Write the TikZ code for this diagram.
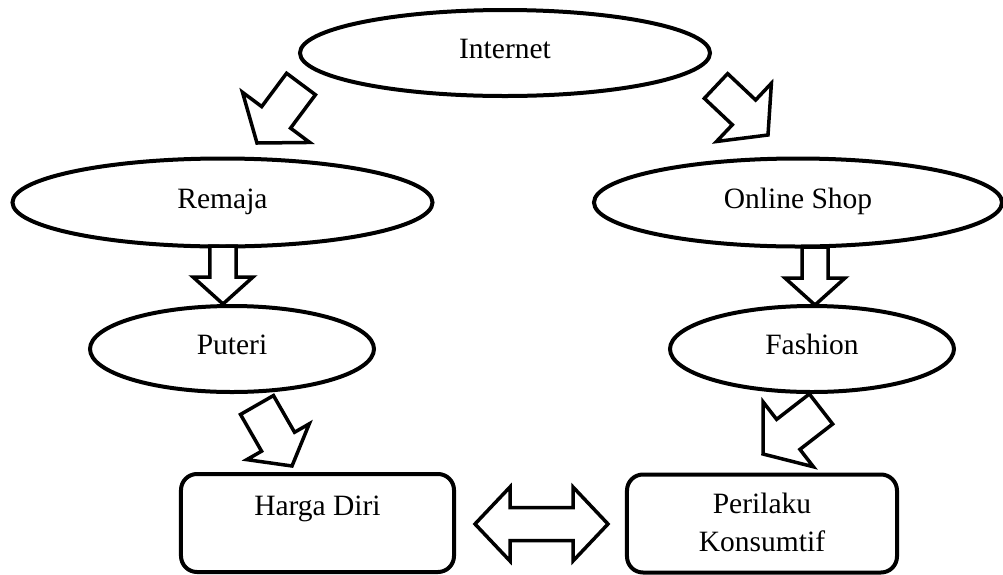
\documentclass[tikz,border=0pt]{standalone}
\usepackage{fontspec}
\setmainfont{Liberation Serif}
\usetikzlibrary{calc,shapes.geometric}
\tikzset{
  ell/.style={ellipse, draw=black, line width=1.6pt, inner sep=0pt, fill=white,
    text height=0.7em, text depth=0.25em},
  box/.style={rectangle, rounded corners=6.4pt, draw=black, line width=1.6pt, inner sep=0pt},
  lbl/.style={anchor=base, inner sep=0pt, align=center},
  blk/.style={draw=black, fill=white, line width=1.4pt, line join=miter},
}
\newcommand\blockarrow[5]{%
  \path ($(#2)!#5!(#1)$) coordinate (ba-base);
  \draw[blk] ($(#1)!#3!90:(#2)$) -- ($(ba-base)!#3!90:(#2)$) -- ($(ba-base)!#4!90:(#2)$)
    -- (#2) -- ($(ba-base)!#4!-90:(#2)$) -- ($(ba-base)!#3!-90:(#2)$) -- ($(#1)!#3!-90:(#2)$) -- cycle;
}
\begin{document}
\begin{tikzpicture}[x=0.4pt,y=-0.4pt,font=\fontsize{11.8pt}{15.2pt}\selectfont]
\useasboundingbox (0,0) rectangle (1003,575);
% ellipses
\node[ell, minimum width=164pt, minimum height=34.4pt] (internet) at (505,53) {Internet};
\node[ell, minimum width=168pt, minimum height=35.2pt] (remaja) at (222.5,202.5) {Remaja};
\node[ell, minimum width=163.2pt, minimum height=35.2pt] (online) at (798,202.5) {Online Shop};
\node[ell, minimum width=113.6pt, minimum height=34.4pt] (puteri) at (232,349) {Puteri};
\node[ell, minimum width=113.6pt, minimum height=34.4pt] (fashion) at (812,349) {Fashion};
% boxes
\node[box, minimum width=109.2pt, minimum height=39.2pt] (harga) at (317.5,523) {};
\node[lbl] (hargatext) at ($(harga.north)+(0,43)$) {Harga Diri};
\node[box, minimum width=108pt, minimum height=39.2pt] (perilaku) at (762,523.5) {};
\node[lbl] (perilakutext) at ($(perilaku.north)+(0,79)$) {Perilaku\\Konsumtif};
% arrow end points
\coordinate (a1t) at (301,84);  \coordinate (a1e) at (257,143);
\coordinate (a2t) at (716,86);  \coordinate (a2e) at (768,135);
\coordinate (a3t) at (223,246); \coordinate (a3e) at (223,304);
\coordinate (a4t) at (815,247); \coordinate (a4e) at (815,305);
\coordinate (a5t) at (257,405); \coordinate (a5e) at (292,466);
\coordinate (a6t) at (821,409); \coordinate (a6e) at (763,454);
\blockarrow{a1t}{a1e}{7.2pt}{16.8pt}{12.8pt}
\blockarrow{a2t}{a2e}{6.8pt}{16pt}{13.2pt}
\blockarrow{a3t}{a3e}{5.2pt}{12pt}{10.8pt}
\blockarrow{a4t}{a4e}{5.2pt}{12pt}{10.8pt}
\blockarrow{a5t}{a5e}{7.6pt}{14.4pt}{11.2pt}
\blockarrow{a6t}{a6e}{7.6pt}{16.4pt}{12.8pt}
% double arrow between boxes
\coordinate (dl) at (475,524);
\coordinate (dr) at (608,524);
\draw[blk] (dl) -- ++(35,-37) -- ++(0,20.5) -- ++(63,0) -- ++(0,-20.5) -- (dr)
  -- ++(-35,37) -- ++(0,-20.5) -- ++(-63,0) -- ++(0,20.5) -- cycle;
\end{tikzpicture}
\end{document}
